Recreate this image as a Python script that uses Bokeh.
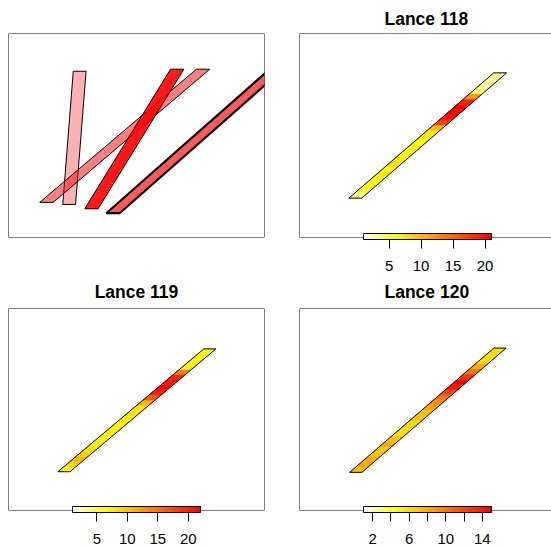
import colorsys
from bokeh.plotting import figure
from bokeh.layouts import column, row
from bokeh.models import (Range1d, LinearColorMapper, ColorBar, FixedTicker,
                          Span, ColumnDataSource)
from bokeh.embed import file_html
from bokeh.resources import INLINE

FONT = "Liberation Sans"

# ---- data -------------------------------------------------------------
# overview panel: all hauls (left edge start / end, band width), map units
overview_x0 = [21.2, 12.2, 29.8, 38.2]
overview_y0 = [16.2, 17.2, 14.1, 11.9]
overview_x1 = [25.3, 73.4, 63.3, 105.9]
overview_y1 = [81.5, 82.5, 82.5, 86.8]
overview_w = [5.0, 5.2, 5.2, 5.2]
overview_alpha = [0.3, 0.5, 0.9, 0.65]
overview_lw = [1.0, 1.0, 1.0, 2.2]

# individual hauls
lance_titles = ["Lance 118", "Lance 119", "Lance 120"]
lance_x0 = [19.3, 19.3, 19.6]
lance_y0 = [19.3, 19.2, 18.9]
lance_x1 = [75.9, 76.3, 75.9]
lance_y1 = [80.7, 80.0, 80.4]
lance_w = [5.0, 4.7, 4.8]

# values along each haul (from start to end)
lance118 = [3, 5, 6, 6, 7, 6, 8, 7, 6, 6, 6, 7, 7, 10, 17, 20, 21, 21, 19, 12, 4, 3, 3, 3]
lance119 = [6, 9, 11, 9, 8, 7, 7, 7, 7, 7, 7, 8, 8, 11, 16, 20, 22, 21, 20, 14, 7, 7, 6, 6]
lance120 = [7, 8, 8, 7, 7, 8, 7, 6, 6, 6, 7, 7, 8, 9, 10, 12, 14, 15, 13, 10, 8, 6, 6, 6]

zlim_low = [1, 1, 1]
zlim_high = [21, 22, 15]
ticks_major = [[5, 10, 15, 20], [5, 10, 15, 20], [2, 6, 10, 14]]
ticks_minor = [[], [], [4, 8, 12]]


# ---- helpers ----------------------------------------------------------
def heat_colors(n):
    j = n // 4
    i = n - j
    cols = []
    for k in range(i):
        h = (1 / 6) * k / (i - 1)
        r, g, b = colorsys.hsv_to_rgb(h, 1, 1)
        cols.append("#%02x%02x%02x" % (round(r * 255), round(g * 255), round(b * 255)))
    s0, s1 = 1 - 1 / (2 * j), 1 / (2 * j)
    for k in range(j):
        s = s0 + (s1 - s0) * k / (j - 1)
        r, g, b = colorsys.hsv_to_rgb(1 / 6, s, 1)
        cols.append("#%02x%02x%02x" % (round(r * 255), round(g * 255), round(b * 255)))
    return cols


PALETTE = list(reversed(heat_colors(64)))


def band_segments(x0, y0, x1, y1, w, n):
    xs, ys = [], []
    for k in range(n):
        ta, tb = k / n, (k + 1) / n
        xa, ya = x0 + ta * (x1 - x0), y0 + ta * (y1 - y0)
        xb, yb = x0 + tb * (x1 - x0), y0 + tb * (y1 - y0)
        xs.append([xa, xa + w, xb + w, xb])
        ys.append([ya, ya, yb, yb])
    return xs, ys


def band_outline(x0, y0, x1, y1, w):
    return [x0, x0 + w, x1 + w, x1], [y0, y0, y1, y1]


def base_figure(w, h, bl, br, bt, bb, xmax):
    p = figure(width=w, height=h, x_range=Range1d(0, xmax), y_range=Range1d(0, 100),
               x_axis_type=None, y_axis_type=None, toolbar_location=None,
               output_backend="svg", min_border_left=bl, min_border_right=br,
               min_border_top=bt, min_border_bottom=bb)
    p.outline_line_color = None
    p.background_fill_color = "white"
    p.border_fill_color = "white"
    return p


def add_box(p, right_edge):
    for loc in (p.y_range.start, p.y_range.end):
        p.add_layout(Span(location=loc, dimension="width", line_color="black", line_width=1))
    p.add_layout(Span(location=p.x_range.start, dimension="height", line_color="black", line_width=1))
    if right_edge:
        p.add_layout(Span(location=p.x_range.end, dimension="height", line_color="black", line_width=1))


def lance_panel(k, values, w, h, bl, br, bt, bb, xmax, align, offset, standoff):
    p = base_figure(w, h, bl, br, bt, bb, xmax)
    p.title.text = lance_titles[k]
    p.title.align = align
    p.title.offset = offset
    p.title.standoff = standoff
    p.title.text_font = FONT
    p.title.text_font_size = "17.5px"
    p.title.text_font_style = "bold"
    p.title.text_color = "black"

    mapper = LinearColorMapper(palette=PALETTE, low=zlim_low[k], high=zlim_high[k])
    xs, ys = band_segments(lance_x0[k], lance_y0[k], lance_x1[k], lance_y1[k], lance_w[k], len(values))
    src = ColumnDataSource(dict(xs=xs, ys=ys, v=values))
    p.patches("xs", "ys", source=src,
              fill_color=dict(field="v", transform=mapper),
              line_color=dict(field="v", transform=mapper), line_width=0.6)
    ox, oy = band_outline(lance_x0[k], lance_y0[k], lance_x1[k], lance_y1[k], lance_w[k])
    p.patch(ox, oy, fill_color=None, line_color="black", line_width=1)

    add_box(p, right_edge=(xmax >= 100))

    cb = ColorBar(color_mapper=mapper, orientation="horizontal", width=128, height=6,
                  location=(64, -36), padding=0,
                  ticker=FixedTicker(ticks=ticks_major[k], minor_ticks=ticks_minor[k]),
                  major_tick_in=0, major_tick_out=9, major_tick_line_color="black",
                  minor_tick_in=0, minor_tick_out=9, minor_tick_line_color="black",
                  major_label_text_font=FONT, major_label_text_font_size="15px",
                  major_label_text_color="black", label_standoff=12,
                  bar_line_color="black", bar_line_width=1,
                  background_fill_color=None, border_line_color=None)
    p.add_layout(cb)
    return p


# ---- overview panel ---------------------------------------------------
p1 = base_figure(280, 272, 8, 16, 33, 35, 100)
oxs, oys = [], []
for i in range(len(overview_x0)):
    bx, by = band_outline(overview_x0[i], overview_y0[i], overview_x1[i], overview_y1[i], overview_w[i])
    oxs.append(bx)
    oys.append(by)
osrc = ColumnDataSource(dict(xs=oxs, ys=oys, a=overview_alpha, lw=overview_lw))
p1.patches("xs", "ys", source=osrc, fill_color="red", fill_alpha="a",
           line_color="black", line_width="lw")
add_box(p1, True)

RIGHT_XMAX = 252 / 2.56

p2 = lance_panel(0, lance118, 271, 272, 19, 0, 33, 35, RIGHT_XMAX, "left", 85, 10)
p3 = lance_panel(1, lance119, 280, 276, 8, 16, 35, 38, 100, "center", 0, 14)
p4 = lance_panel(2, lance120, 271, 276, 19, 0, 35, 38, RIGHT_XMAX, "left", 85, 14)

layout = column(row(p1, p2), row(p3, p4))

open("out.html", "w").write(file_html(layout, INLINE))
